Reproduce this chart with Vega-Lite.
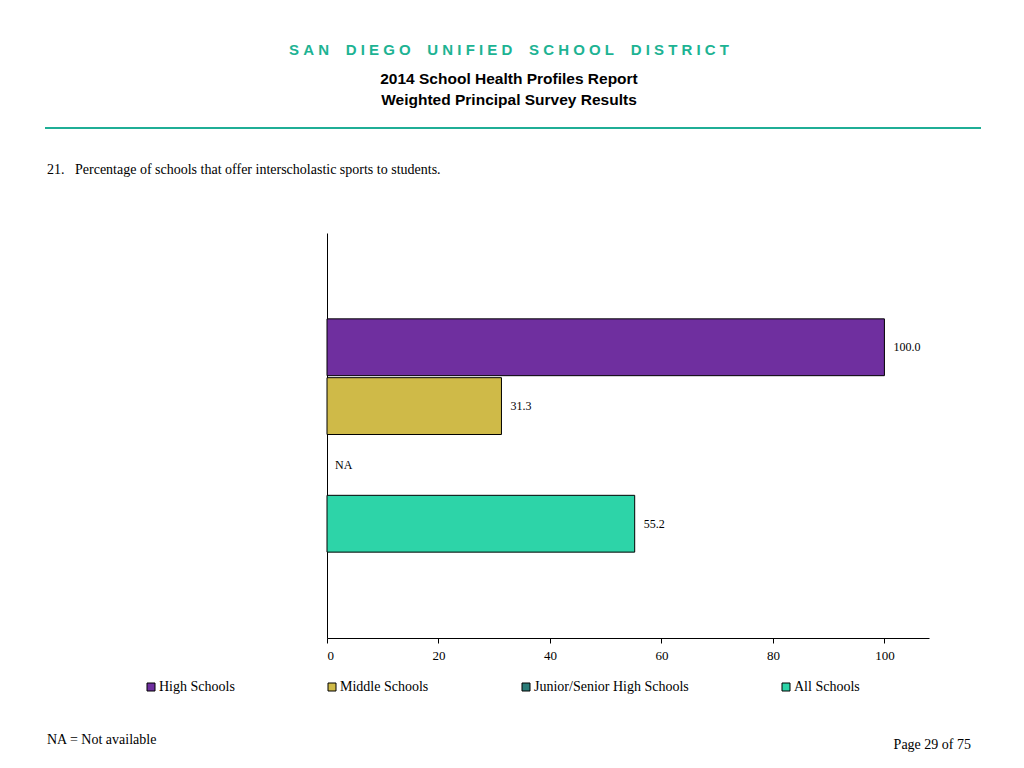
{
  "$schema": "https://vega.github.io/schema/vega-lite/v6.json",
  "background": "white",
  "padding": {"left": 45, "top": 42, "right": 43, "bottom": 10},
  "config": {
    "font": "Liberation Serif",
    "view": {"stroke": null},
    "axis": {"domainColor": "black", "tickColor": "black", "labelColor": "black", "labelFont": "Liberation Serif", "labelFontSize": 13, "grid": false}
  },
  "datasets": {
    "schools": [
      {"group": "High Schools", "value": 100.0, "label": "100.0"},
      {"group": "Middle Schools", "value": 31.3, "label": "31.3"},
      {"group": "Junior/Senior High Schools", "value": null, "label": "NA"},
      {"group": "All Schools", "value": 55.2, "label": "55.2"}
    ]
  },
  "bounds": "full",
  "spacing": 30,
  "vconcat": [
    {
      "width": 936,
      "height": 2,
      "view": {"fill": "#1FAE96", "stroke": null},
      "data": {"values": [{}]},
      "mark": {"type": "text", "text": ""},
      "title": {
        "text": "S\u00a0A\u00a0N\u00a0\u00a0\u00a0\u00a0D\u00a0I\u00a0E\u00a0G\u00a0O\u00a0\u00a0\u00a0\u00a0U\u00a0N\u00a0I\u00a0F\u00a0I\u00a0E\u00a0D\u00a0\u00a0\u00a0\u00a0S\u00a0C\u00a0H\u00a0O\u00a0O\u00a0L\u00a0\u00a0\u00a0\u00a0D\u00a0I\u00a0S\u00a0T\u00a0R\u00a0I\u00a0C\u00a0T",
        "subtitle": ["2014 School Health Profiles Report", "Weighted Principal Survey Results"],
        "anchor": "middle",
        "dx": -4,
        "font": "Liberation Sans",
        "fontSize": 15,
        "fontWeight": "bold",
        "color": "#1DB393",
        "subtitleFont": "Liberation Sans",
        "subtitleFontSize": 15.5,
        "subtitleFontWeight": "bold",
        "subtitleColor": "black",
        "subtitleLineHeight": 21,
        "subtitlePadding": 14,
        "offset": 14
      }
    },
    {
      "bounds": "flush",
      "spacing": 12,
      "resolve": {"scale": {"color": "independent"}},
      "title": {
        "text": "21.\u00a0\u00a0 Percentage of schools that offer interscholastic sports to students.",
        "anchor": "start",
        "font": "Liberation Serif",
        "fontSize": 14,
        "fontWeight": "normal",
        "color": "black",
        "offset": 56,
        "dx": 2
      },
      "hconcat": [
        {
          "width": 270,
          "height": 405,
          "data": {"values": [{}]},
          "mark": {"type": "text", "text": ""}
        },
        {
          "width": 602,
          "height": 405,
          "data": {"name": "schools"},
          "encoding": {
            "y": {
              "field": "group",
              "type": "nominal",
              "scale": {"domain": ["", "High Schools", "Middle Schools", "Junior/Senior High Schools", "All Schools", " "], "paddingInner": 0.034, "paddingOuter": 0.46},
              "axis": {"labels": false, "ticks": false, "title": null, "domainColor": "black"}
            }
          },
          "layer": [
            {
              "mark": {"type": "bar", "stroke": "black", "strokeWidth": 1},
              "encoding": {
                "x": {
                  "field": "value",
                  "type": "quantitative",
                  "scale": {"domain": [0, 108], "nice": false},
                  "axis": {"values": [0, 20, 40, 60, 80, 100], "title": null, "tickSize": 5, "labelPadding": 6, "domainColor": "black"}
                },
                "color": {
                  "field": "group",
                  "type": "nominal",
                  "scale": {
                    "domain": ["High Schools", "Middle Schools", "Junior/Senior High Schools", "All Schools"],
                    "range": ["#6F2F9F", "#CFBA48", "#2A7C78", "#2DD4A8"]
                  },
                  "legend": {
                    "title": null,
                    "orient": "none",
                    "direction": "horizontal",
                    "columns": 4,
                    "gridAlign": "none",
                    "columnPadding": 90,
                    "legendX": -192,
                    "legendY": 438,
                    "padding": 9,
                    "symbolType": "square",
                    "symbolSize": 64,
                    "symbolStrokeColor": "black",
                    "symbolStrokeWidth": 1,
                    "symbolOpacity": 1,
                    "labelFont": "Liberation Serif",
                    "labelFontSize": 14,
                    "labelColor": "black",
                    "labelOffset": 1
                  }
                }
              }
            },
            {
              "transform": [{"filter": "isValid(datum.value)"}],
              "mark": {"type": "text", "align": "left", "dx": 9, "fontSize": 12, "font": "Liberation Serif", "color": "black"},
              "encoding": {
                "x": {"field": "value", "type": "quantitative"},
                "text": {"field": "label"}
              }
            },
            {
              "transform": [{"filter": "!isValid(datum.value)"}],
              "mark": {"type": "text", "align": "left", "dx": 8, "fontSize": 12, "font": "Liberation Serif", "color": "black"},
              "encoding": {
                "x": {"datum": 0, "type": "quantitative"},
                "text": {"field": "label"}
              }
            }
          ]
        }
      ]
    },
    {
      "bounds": "flush",
      "spacing": 36,
      "hconcat": [
        {
          "width": 450,
          "height": 0,
          "data": {"values": [{}]},
          "mark": {"type": "text", "text": ""},
          "title": {"text": "NA = Not available", "anchor": "start", "orient": "top", "font": "Liberation Serif", "fontSize": 14, "fontWeight": "normal", "color": "black", "offset": 0, "dx": 2}
        },
        {
          "width": 450,
          "height": 0,
          "data": {"values": [{}]},
          "mark": {"type": "text", "text": ""},
          "title": {"text": "Page 29 of 75", "anchor": "end", "orient": "top", "font": "Liberation Serif", "fontSize": 14, "fontWeight": "normal", "color": "black", "offset": 0, "dx": -10, "dy": 5}
        }
      ]
    }
  ]
}
